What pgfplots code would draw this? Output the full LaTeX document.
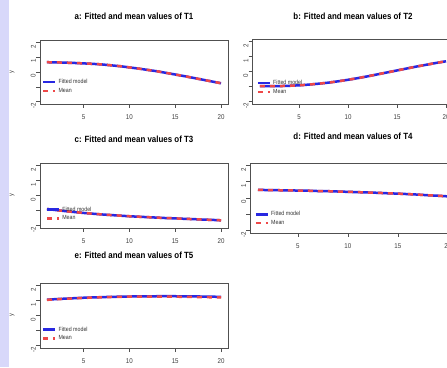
\documentclass[border=0pt]{standalone}
\usepackage{pgfplots}
\pgfplotsset{compat=1.18}
\usepackage{pgfplotstable}
\usepackage{fontspec}
\setmainfont{Liberation Sans}[FakeStretch=0.88]

\definecolor{fitblue}{RGB}{40,40,225}
\definecolor{meanred}{RGB}{238,72,72}
\definecolor{boxgray}{RGB}{80,80,80}
\definecolor{lav}{RGB}{216,216,250}

\pgfplotstableread{
x fit mean
1 0.66 0.66
2 0.65 0.65
3 0.63 0.63
4 0.61 0.61
5 0.58 0.58
6 0.55 0.55
7 0.51 0.51
8 0.45 0.45
9 0.39 0.39
10 0.31 0.31
11 0.23 0.23
12 0.14 0.14
13 0.05 0.05
14 -0.06 -0.06
15 -0.17 -0.17
16 -0.28 -0.28
17 -0.40 -0.40
18 -0.52 -0.52
19 -0.64 -0.64
20 -0.76 -0.76
}\Ta

\pgfplotstableread{
x fit mean
1 -0.98 -0.98
2 -0.98 -0.98
3 -0.97 -0.97
4 -0.95 -0.95
5 -0.92 -0.92
6 -0.87 -0.87
7 -0.81 -0.81
8 -0.74 -0.74
9 -0.65 -0.65
10 -0.55 -0.55
11 -0.44 -0.44
12 -0.32 -0.32
13 -0.19 -0.19
14 -0.06 -0.06
15 0.07 0.07
16 0.20 0.20
17 0.33 0.33
18 0.45 0.45
19 0.57 0.57
20 0.68 0.68
}\Tb

\pgfplotstableread{
x fit mean
1 -0.90 -0.90
2 -0.97 -0.97
3 -1.04 -1.04
4 -1.10 -1.10
5 -1.16 -1.16
6 -1.21 -1.21
7 -1.26 -1.26
8 -1.30 -1.30
9 -1.34 -1.34
10 -1.38 -1.38
11 -1.41 -1.41
12 -1.44 -1.44
13 -1.47 -1.47
14 -1.50 -1.50
15 -1.52 -1.52
16 -1.55 -1.55
17 -1.57 -1.57
18 -1.60 -1.60
19 -1.62 -1.62
20 -1.65 -1.65
}\Tc

\pgfplotstableread{
x fit mean
1 0.50 0.50
2 0.49 0.49
3 0.48 0.48
4 0.47 0.47
5 0.46 0.46
6 0.45 0.45
7 0.43 0.43
8 0.42 0.42
9 0.40 0.40
10 0.38 0.38
11 0.36 0.36
12 0.34 0.34
13 0.32 0.32
14 0.29 0.29
15 0.27 0.27
16 0.24 0.24
17 0.21 0.21
18 0.17 0.17
19 0.14 0.14
20 0.10 0.10
}\Td

\pgfplotstableread{
x fit mean
1 1.05 1.04
2 1.09 1.08
3 1.12 1.11
4 1.15 1.14
5 1.18 1.17
6 1.20 1.19
7 1.22 1.21
8 1.24 1.23
9 1.25 1.24
10 1.26 1.25
11 1.27 1.26
12 1.27 1.26
13 1.28 1.26
14 1.28 1.26
15 1.28 1.25
16 1.27 1.24
17 1.27 1.23
18 1.26 1.22
19 1.25 1.21
20 1.24 1.20
}\Te

\pgfplotsset{
  panel/.style={
    scale only axis,
    anchor=south west,
    xmin=0.24, xmax=20.76, ymin=-2.16, ymax=2.16,
    xtick={5,10,15,20},
    ytick={-2,-1,0,1,2},
    yticklabels={-2,,0,1,2},
    xtick pos=bottom, ytick pos=left,
    tick align=outside,
    major tick length=4pt,
    /pgf/number format/assume math mode=true,
    axis line style={boxgray, line width=0.9pt},
    every tick/.style={boxgray, line width=0.6pt},
    tick label style={font=\fontsize{7}{7}\selectfont, text=black!75},
    yticklabel style={rotate=90, anchor=south, inner sep=0pt, xshift=-4pt},
    xticklabel style={anchor=north, inner sep=0pt, yshift=-6pt},
    legend cell align=left,
    legend style={draw=none, fill=none, font=\fontsize{6}{6}\selectfont,
      row sep=-1pt, inner sep=0pt, text=black!80},
    legend image code/.code={\draw[##1] (0pt,0pt) -- (12pt,0pt);},
  },
  fitline/.style={fitblue, line width=2.5pt},
  meanline/.style={meanred, line width=2.5pt, dash pattern=on 5pt off 5pt},
  ylab/.style={ylabel={y}, ylabel style={at={(axis description cs:-0.149,0.5)}, anchor=center, font=\fontsize{6.5}{6.5}\selectfont, text=black!75}},
}

\begin{document}
\begin{tikzpicture}
\path[use as bounding box] (0pt,0pt) rectangle (447pt,367pt);
\clip (0pt,0pt) rectangle (447pt,367pt);
\fill[white] (0pt,0pt) rectangle (447pt,367pt);
\fill[lav] (0pt,0pt) rectangle (9pt,367pt);

\begin{axis}[panel, ylab, at={(40pt,263pt)}, width=188pt, height=64pt,
  legend style={at={(axis description cs:0.01,0.42)}, anchor=north west}]
\addplot[fitline] table[x=x,y=fit] {\Ta};
\addplot[meanline] table[x=x,y=mean] {\Ta};
\legend{Fitted model, Mean}
\end{axis}

\begin{axis}[panel, at={(252.5pt,263pt)}, width=201pt, height=65pt,
  legend style={at={(axis description cs:0.02,0.40)}, anchor=north west}]
\addplot[fitline] table[x=x,y=fit] {\Tb};
\addplot[meanline] table[x=x,y=mean] {\Tb};
\legend{Fitted model, Mean}
\end{axis}

\begin{axis}[panel, ylab, at={(40pt,139pt)}, width=188pt, height=65pt,
  legend style={at={(axis description cs:0.03,0.36)}, anchor=north west}]
\addplot[fitline] table[x=x,y=fit] {\Tc};
\addplot[meanline] table[x=x,y=mean] {\Tc};
\legend{Fitted model, Mean}
\end{axis}

\begin{axis}[panel, at={(250.4pt,134pt)}, width=205pt, height=70pt,
  legend style={at={(axis description cs:0.02,0.34)}, anchor=north west}]
\addplot[fitline] table[x=x,y=fit] {\Td};
\addplot[meanline] table[x=x,y=mean] {\Td};
\legend{Fitted model, Mean}
\end{axis}

\begin{axis}[panel, ylab, at={(40pt,19pt)}, width=188pt, height=65pt,
  legend style={at={(axis description cs:0.01,0.36)}, anchor=north west}]
\addplot[fitline] table[x=x,y=fit] {\Te};
\addplot[meanline] table[x=x,y=mean] {\Te};
\legend{Fitted model, Mean}
\end{axis}

\begin{scope}[every node/.style={font=\bfseries\fontsize{9}{9}\selectfont}]
\node at (134pt,351pt) {a: Fitted and mean values of T1};
\node at (353pt,351pt) {b: Fitted and mean values of T2};
\node at (134pt,228pt) {c: Fitted and mean values of T3};
\node at (353pt,231pt) {d: Fitted and mean values of T4};
\node at (134pt,112pt) {e: Fitted and mean values of T5};
\end{scope}
\end{tikzpicture}
\end{document}
